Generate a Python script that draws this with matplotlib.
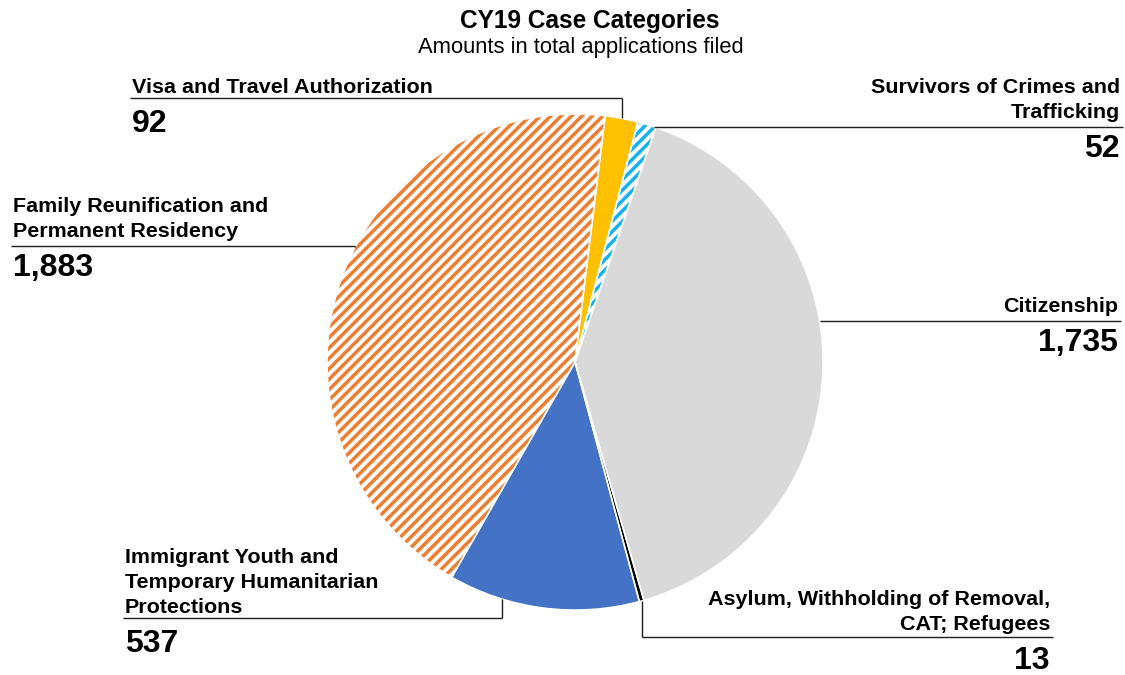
import numpy as np
import matplotlib
matplotlib.use('Agg')
import matplotlib.pyplot as plt

plt.rcParams['font.family'] = ['Liberation Sans', 'DejaVu Sans']
plt.rcParams['hatch.linewidth'] = 2.0

# данные по категориям
categories = ['Visa and Travel Authorization',
              'Survivors of Crimes and\nTrafficking',
              'Citizenship',
              'Asylum, Withholding of Removal,\nCAT; Refugees',
              'Immigrant Youth and\nTemporary Humanitarian\nProtections',
              'Family Reunification and\nPermanent Residency']
values = [92, 52, 1735, 13, 537, 1883]
colors = ['#FFC000', '#13B2F0', '#D9D9D9', '#000000', '#4472C4', '#ED7D31']
hatched = [False, True, False, False, False, True]

DPI = 125
W, H = 1125, 675
PT = 72 / DPI  # px -> pt

fig = plt.figure(figsize=(W / DPI, H / DPI), dpi=DPI)
ax = fig.add_axes([0, 0, 1, 1])

cx, cy, R = 575, H - 362, 248
START = 7.0  # градусы по часовой от верха
wedges, _ = ax.pie(values, center=(cx, cy), radius=R, startangle=90 - START,
                   counterclock=False, colors=colors,
                   wedgeprops=dict(linewidth=0))
for w, c, h in zip(wedges, colors, hatched):
    if h:
        w.set_facecolor('white')
        w.set_edgecolor(c)
        w.set_hatch('////')
# белые границы между секторами
ax.pie(values, center=(cx, cy), radius=R, startangle=90 - START, counterclock=False,
       wedgeprops=dict(facecolor='none', edgecolor='white', linewidth=1.5 * PT))

ax.set_xlim(0, W)
ax.set_ylim(0, H)
ax.set_aspect('equal')
ax.axis('off')


def rim(a):
    # точка на окружности, угол a по часовой от верха
    t = np.deg2rad(90 - a)
    return cx + R * np.cos(t), cy + R * np.sin(t)


def Y(y):
    return H - y


lk = dict(color='#1f1f1f', lw=1.4 * PT, solid_capstyle='butt')
cat_fs = 21.5 * PT
num_fs = 32 * PT

# (индекс, выравнивание, x текста, y линии, угол привязки или None = середина сектора, сдвиг блока вверх)
labels = [
    (0, 'left', 132, 98, None, 0),
    (1, 'right', 1120, 127, 18.5, 4),
    (2, 'right', 1118, 321, 80.5, 4),
    (3, 'right', 1050, 637, None, 2),
    (4, 'left', 125, 618, 197, 0),
    (5, 'left', 13, 246, 297.5, 4),
]

total = sum(values)
acc = START
mids = []
for v in values:
    span = 360 * v / total
    mids.append(acc + span / 2)
    acc += span

for i, side, tx, ly, ang, sh in labels:
    a = mids[i] if ang is None else ang
    px, py = rim(a)
    ax.plot([px, px], [py, Y(ly)], **lk)
    ax.plot([px, tx + (3 if side == 'right' else -2)], [Y(ly), Y(ly)], **lk)
    ax.text(tx, Y(ly - 1 - sh), categories[i], ha=side, va='bottom',
            fontsize=cat_fs, fontweight='bold', linespacing=1.4)
    ax.text(tx, Y(ly + 34 - sh), f'{values[i]:,}', ha=side, va='baseline',
            fontsize=num_fs, fontweight='bold')

fig.text(590 / W, 1 - 21 / H, 'CY19 Case Categories', ha='center', va='center',
         fontsize=24.5 * PT, fontweight='bold')
fig.text(581 / W, 1 - 47 / H, 'Amounts in total applications filed', ha='center',
         va='center', fontsize=22 * PT)

fig.savefig('out.png', dpi=DPI)
